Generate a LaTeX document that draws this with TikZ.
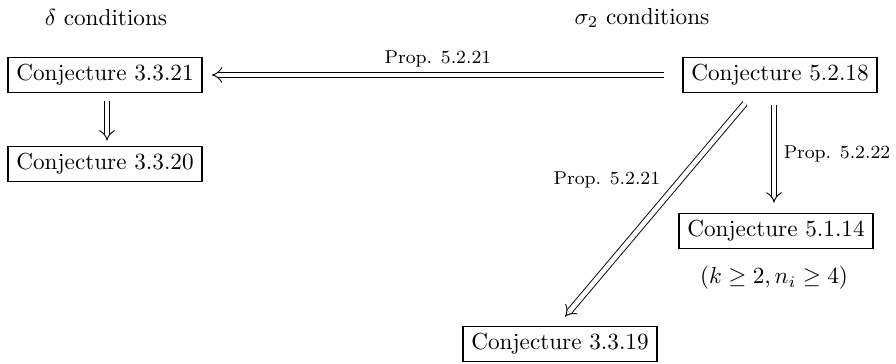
\documentclass[tikz,border=0pt]{standalone}
\usetikzlibrary{arrows.meta,calc}
\tikzset{
  conj/.style={draw, line width=0.7pt, inner xsep=3.6pt, inner ysep=3pt},
  impl/.style={double, double distance=2pt, line width=0.4pt, -{Implies}},
  lab/.style={font=\footnotesize, inner sep=2pt}
}
\begin{document}
\begin{tikzpicture}[x=0.431pt, y=-0.431pt]
\useasboundingbox (0,0) rectangle (896,363);
\node (t1) at (106,18) {$\delta$ conditions};
\node (t2) at (642,18) {$\sigma_2$ conditions};
\node[conj] (A) at (105,75) {Conjecture 3.3.21};
\node[conj] (B) at (105,164) {Conjecture 3.3.20};
\node[conj] (C) at (780,75) {Conjecture 5.2.18};
\node[conj] (D) at (776,231) {Conjecture 5.1.14};
\node (cond) at (774,278) {$(k \geq 2, n_i \geq 4)$};
\node[conj] (E) at (560,344) {Conjecture 3.3.19};
\draw[impl] ($(C.west)+(-18,0)$) -- node[lab, above, yshift=1pt] (l1) {Prop. 5.2.21} ($(A.east)+(9,0)$);
\draw[impl] ($(A.south)+(2,8)$) -- ($(B.north)+(2,-5)$);
\draw[impl] ($(C.south -| D.north)+(-2,12)$) -- node[lab, right, xshift=2pt] (l2) {Prop. 5.2.22} ($(D.north)+(-2,-10)$);
\draw[impl] ($(C.south)+(-35,10)$) -- node[lab, pos=0.43, anchor=south east, inner sep=3pt] (l3) {Prop. 5.2.21} ($(E.north)+(5,-9)$);
\end{tikzpicture}
\end{document}
